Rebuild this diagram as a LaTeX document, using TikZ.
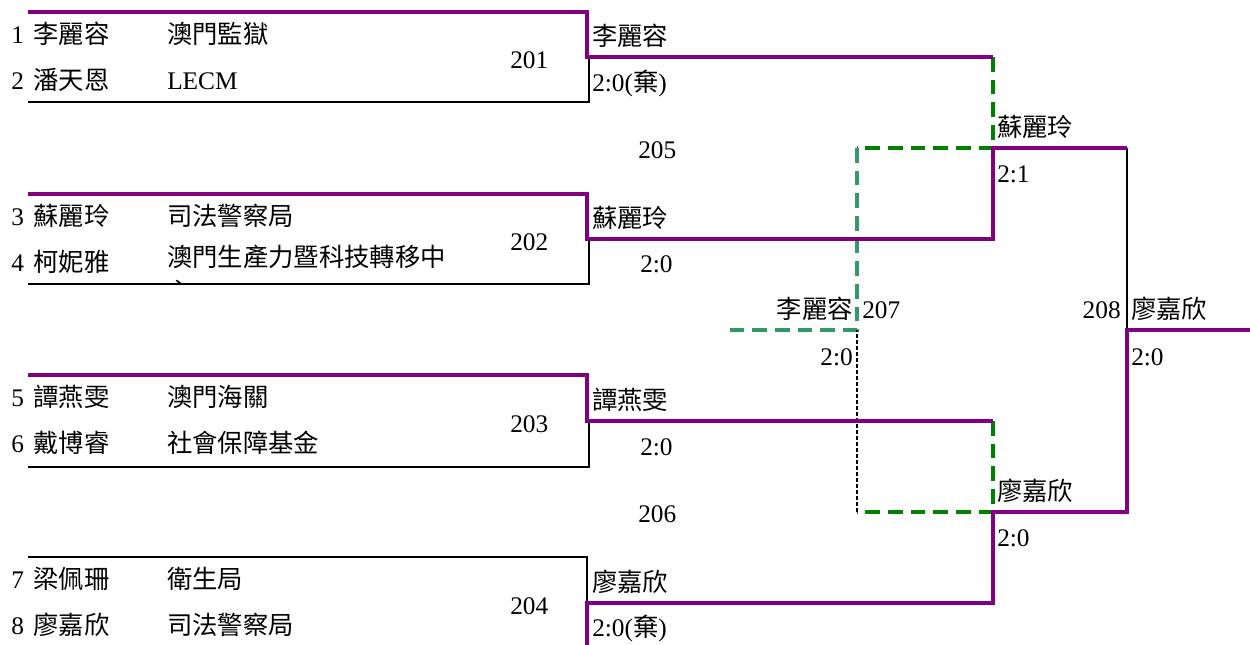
\documentclass[tikz,border=0pt]{standalone}
\usepackage{fontspec}
\setmainfont{Liberation Serif}
\newfontfamily\cjk{Noto Sans CJK TC}
\definecolor{win}{RGB}{128,0,128}
\definecolor{gdash}{RGB}{0,128,0}
\definecolor{sgdash}{RGB}{51,153,102}
\begin{document}
\begin{tikzpicture}[x=0.75pt,y=-0.75pt,
  font=\fontsize{19}{23}\selectfont,
  lbl/.style={anchor=base west, inner sep=0pt},
  lblr/.style={anchor=base east, inner sep=0pt},
  winline/.style={draw=win, line width=3pt},
  loseline/.style={draw=black, line width=1.8pt},
  thinline/.style={draw=black, line width=1.3pt},
  gline/.style={draw=gdash, line width=3pt, dash pattern=on 11pt off 6pt},
  sgline/.style={draw=sgdash, line width=2.7pt, dash pattern=on 11pt off 6pt},
  bdash/.style={draw=black, line width=1.1pt, dash pattern=on 3pt off 1.5pt}]
\useasboundingbox (0,0) rectangle (1250,644);

% coordinates
\coordinate (t1l) at (28,12);  \coordinate (t1r) at (587,12);  \coordinate (m1a) at (587,57);  \coordinate (m1b) at (589,57);  \coordinate (b1r) at (589,102); \coordinate (b1l) at (28,102);
\coordinate (t2l) at (28,194); \coordinate (t2r) at (587,194); \coordinate (m2a) at (587,239); \coordinate (m2b) at (589,239); \coordinate (b2r) at (589,284); \coordinate (b2l) at (28,284);
\coordinate (t3l) at (28,375); \coordinate (t3r) at (587,375); \coordinate (m3a) at (587,421); \coordinate (m3b) at (589,421); \coordinate (b3r) at (589,467); \coordinate (b3l) at (28,467);
\coordinate (t4l) at (28,557); \coordinate (t4r) at (587,557); \coordinate (m4a) at (587,603); \coordinate (b4) at (587,648);
\coordinate (r1) at (993,57);  \coordinate (r2) at (993,239);
\coordinate (r3) at (993,421); \coordinate (r4) at (993,603);
\coordinate (s1) at (993,148); \coordinate (s2) at (993,512);
\coordinate (f1) at (1127,148); \coordinate (f2) at (1127,512);
\coordinate (fm) at (1127,330); \coordinate (fe) at (1250,330);
\coordinate (g1) at (857,148); \coordinate (g2) at (857,512);
\coordinate (gm) at (857,330); \coordinate (ge) at (722,330);

% clipped remainder of wrapped text
\begin{scope}
  \clip (160,270) rectangle (300,283);
  \node[lbl] (c4b) at (167,300) {\cjk 心};
\end{scope}

% dashed (third place) lines
\draw[gline] (r1) -- (s1) -- (g1);
\draw[sgline] (g1) -- (gm) -- (ge);
\draw[gline] (r3) -- (s2) -- (g2);
\draw[bdash] (g2) -- (gm);
\draw[thinline] (f1) -- (fm);

% loser box lines
\draw[loseline] (m1b) -- (b1r) -- (b1l);
\draw[loseline] (m2b) -- (b2r) -- (b2l);
\draw[loseline] (m3b) -- (b3r) -- (b3l);
\draw[loseline] (t4l) -- (t4r) -- (m4a);

% winner lines
\draw[winline] (t1l) -- (t1r) -- (m1a) -- (r1);
\draw[winline] (t2l) -- (t2r) -- (m2a) -- (r2) -- (s1) -- (f1);
\draw[winline] (t3l) -- (t3r) -- (m3a) -- (r3);
\draw[winline] (b4) -- (m4a) -- (r4) -- (s2) -- (f2) -- (fm) -- (fe);

% match 201
\node[lbl] (p1) at (11,43) {1\hspace{0.38em}{\cjk 李麗容}};
\node[lbl] (k1) at (167,43) {\cjk 澳門監獄};
\node[lbl] (p2) at (11,89) {2\hspace{0.38em}{\cjk 潘天恩}};
\node[lbl] (k2) at (167,89) {LECM};
\node[lbl] (n201) at (510,68) {201};
\node[lbl] (w201) at (592,45) {\cjk 李麗容};
\node[lbl] (sc201) at (592,91) {2:0({\cjk 棄})};
% match 202
\node[lbl] (p3) at (11,225) {3\hspace{0.38em}{\cjk 蘇麗玲}};
\node[lbl] (k3) at (167,225) {\cjk 司法警察局};
\node[lbl] (p4) at (11,271) {4\hspace{0.38em}{\cjk 柯妮雅}};
\node[lbl] (k4) at (167,266) {\cjk 澳門生產力暨科技轉移中};
\node[lbl] (n202) at (510,250) {202};
\node[lbl] (w202) at (592,227) {\cjk 蘇麗玲};
\node[lbl] (sc202) at (640,272) {2:0};
\node[lbl] (n205) at (638,158) {205};
% match 203
\node[lbl] (p5) at (11,406) {5\hspace{0.38em}{\cjk 譚燕雯}};
\node[lbl] (k5) at (167,406) {\cjk 澳門海關};
\node[lbl] (p6) at (11,452) {6\hspace{0.38em}{\cjk 戴博睿}};
\node[lbl] (k6) at (167,452) {\cjk 社會保障基金};
\node[lbl] (n203) at (510,432) {203};
\node[lbl] (w203) at (592,409) {\cjk 譚燕雯};
\node[lbl] (sc203) at (640,455) {2:0};
\node[lbl] (n206) at (638,522) {206};
% match 204
\node[lbl] (p7) at (11,588) {7\hspace{0.38em}{\cjk 梁佩珊}};
\node[lbl] (k7) at (167,588) {\cjk 衛生局};
\node[lbl] (p8) at (11,634) {8\hspace{0.38em}{\cjk 廖嘉欣}};
\node[lbl] (k8) at (167,634) {\cjk 司法警察局};
\node[lbl] (n204) at (510,614) {204};
\node[lbl] (w204) at (592,591) {\cjk 廖嘉欣};
\node[lbl] (sc204) at (592,636) {2:0({\cjk 棄})};
% semi-finals
\node[lbl] (w205) at (997,136) {\cjk 蘇麗玲};
\node[lbl] (sc205) at (997,182) {2:1};
\node[lbl] (w206) at (997,500) {\cjk 廖嘉欣};
\node[lbl] (sc206) at (997,546) {2:0};
% 207
\node[lblr] (w207) at (853,318) {\cjk 李麗容};
\node[lbl] (n207) at (862,318) {207};
\node[lblr] (sc207) at (853,365) {2:0};
% 208
\node[lblr] (n208) at (1121,318) {208};
\node[lbl] (w208) at (1131,318) {\cjk 廖嘉欣};
\node[lbl] (sc208) at (1131,365) {2:0};
\end{tikzpicture}
\end{document}
